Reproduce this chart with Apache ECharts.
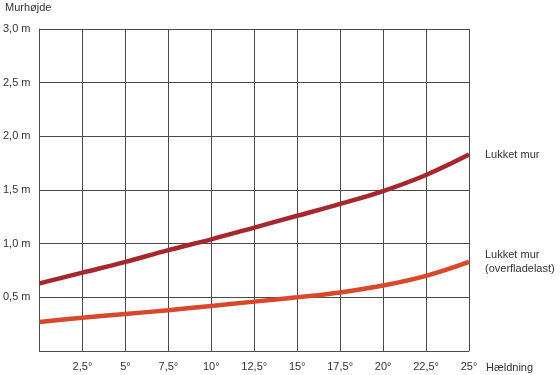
<!DOCTYPE html>
<html><head><meta charset="utf-8">
<script src="https://cdn.jsdelivr.net/npm/echarts@6/dist/echarts.min.js"></script>
<style>html,body{margin:0;padding:0;background:#fff}#c{width:560px;height:375px}</style>
</head><body><div id="c"></div>
<script>
const slopes = [0, 2.5, 5, 7.5, 10, 12.5, 15, 17.5, 20, 22.5, 25];
const lukketMur = [0.63, 0.73, 0.83, 0.94, 1.04, 1.15, 1.26, 1.37, 1.49, 1.64, 1.83];
const lukketMurOverflade = [0.27, 0.31, 0.345, 0.38, 0.42, 0.46, 0.50, 0.545, 0.61, 0.70, 0.83];
const seriesNames = ['Lukket mur', 'Lukket mur\n(overfladelast)'];
const seriesColors = ['#a6282e', '#d9482a'];

const font = 'Liberation Sans, Arial, sans-serif';
const txt = {color:'#333', fontSize:11, fontFamily:font};
const pairs = arr => slopes.map((x,i)=>[x, arr[i]]);

const chart = echarts.init(document.getElementById('c'));
chart.setOption({
  animation:false,
  title:{text:'Murhøjde', left:0, top:-3, textStyle:Object.assign({fontWeight:'normal'}, txt)},
  grid:{left:38, right:91, top:29, bottom:24},
  xAxis:{type:'value', min:0, max:25, interval:2.5,
    name:'Hældning', nameLocation:'end', nameGap:17,
    nameTextStyle:Object.assign({verticalAlign:'top', align:'left', padding:[11,0,0,0]}, txt),
    axisLine:{lineStyle:{color:'#4a4a4a', width:1}}, axisTick:{show:false},
    axisLabel:Object.assign({margin:10, formatter:v=> v===0?'':(String(v).replace('.',','))+'°'}, txt),
    splitLine:{show:true, lineStyle:{color:'#4a4a4a', width:1}}},
  yAxis:{type:'value', min:0, max:3, interval:0.5,
    axisLine:{show:true, lineStyle:{color:'#4a4a4a', width:1}}, axisTick:{show:false},
    axisLabel:Object.assign({margin:9, formatter:v=> v===0?'':v.toFixed(1).replace('.',',')+' m'}, txt),
    splitLine:{show:true, lineStyle:{color:'#4a4a4a', width:1}}},
  series:[lukketMur, lukketMurOverflade].map((arr,i)=>({
    type:'line', name:seriesNames[i], data:pairs(arr), smooth:0.4, symbol:'none',
    lineStyle:{color:seriesColors[i], width:4.5},
    endLabel:{show:true, distance:16, formatter:p=>seriesNames[i], color:'#333', fontSize:11, fontFamily:font, lineHeight:14, align:'left'}
  }))
});
</script></body></html>
